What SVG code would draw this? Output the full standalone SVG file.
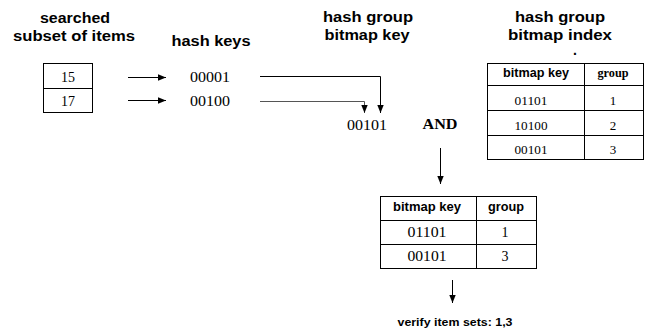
<svg xmlns="http://www.w3.org/2000/svg" width="645" height="333" viewBox="0 0 645 333">
  <style>
    .title { font-family: "Liberation Sans", Arial, sans-serif; font-weight: bold; font-size: 14px; fill: #000; text-anchor: middle; }
    .head { font-family: "Liberation Sans", Arial, sans-serif; font-weight: bold; font-size: 12px; fill: #000; text-anchor: middle; }
    .headSerif { font-family: "Liberation Serif", "Times New Roman", serif; font-weight: bold; font-size: 12px; fill: #000; text-anchor: middle; }
    .val { font-family: "Liberation Serif", "Times New Roman", serif; font-size: 14px; fill: #000; text-anchor: middle; }
    .valSm { font-family: "Liberation Serif", "Times New Roman", serif; font-size: 13px; fill: #000; text-anchor: middle; }
    .op { font-family: "Liberation Serif", "Times New Roman", serif; font-weight: bold; font-size: 15px; fill: #000; text-anchor: middle; }
    .note { font-family: "Liberation Sans", Arial, sans-serif; font-weight: bold; font-size: 11px; fill: #000; text-anchor: middle; }
    .cell { fill: #fff; stroke: #000; stroke-width: 1; }
    .grid { stroke: #000; stroke-width: 1; fill: none; }
    .wire { stroke: #000; stroke-width: 1; fill: none; }
    .wireGrey { stroke: #555; stroke-width: 1; fill: none; }
  </style>
  <defs>
    <marker id="arrow" viewBox="0 0 8 8" refX="8" refY="4" markerWidth="8" markerHeight="8" markerUnits="userSpaceOnUse" orient="auto">
      <path d="M0,0.8 L8,4 L0,7.2 Z" fill="#000"/>
    </marker>
  </defs>

  <rect width="645" height="333" fill="#fff"/>

  <!-- column titles -->
  <g id="titles">
    <text class="title" x="75" y="23" textLength="70" lengthAdjust="spacingAndGlyphs">searched</text>
    <text class="title" x="74" y="41" textLength="122" lengthAdjust="spacingAndGlyphs">subset of items</text>
    <text class="title" x="211" y="46" textLength="79" lengthAdjust="spacingAndGlyphs">hash keys</text>
    <text class="title" x="368" y="22" textLength="90" lengthAdjust="spacingAndGlyphs">hash group</text>
    <text class="title" x="367" y="40" textLength="85" lengthAdjust="spacingAndGlyphs">bitmap key</text>
    <text class="title" x="560" y="22" textLength="90" lengthAdjust="spacingAndGlyphs">hash group</text>
    <text class="title" x="560" y="40" textLength="104" lengthAdjust="spacingAndGlyphs">bitmap index</text>
    <text class="title" x="575" y="55">.</text>
  </g>

  <!-- searched items -->
  <g id="items">
    <rect class="cell" x="43.5" y="63.5" width="49" height="49"/>
    <line class="grid" x1="43.5" y1="88.5" x2="92.5" y2="88.5"/>
    <text class="val" x="68" y="82">15</text>
    <text class="val" x="68" y="106">17</text>
  </g>

  <!-- hash keys -->
  <g id="hashkeys">
    <text class="val" x="210" y="82" textLength="40" lengthAdjust="spacingAndGlyphs">00001</text>
    <text class="val" x="210" y="106" textLength="40" lengthAdjust="spacingAndGlyphs">00100</text>
  </g>

  <!-- combined group key and operator -->
  <g id="groupkey">
    <text class="val" x="367" y="130" textLength="40" lengthAdjust="spacingAndGlyphs">00101</text>
  </g>
  <g id="and-op">
    <text class="op" x="440" y="129" textLength="35" lengthAdjust="spacingAndGlyphs">AND</text>
  </g>

  <!-- bitmap index table -->
  <g id="index-table">
    <rect class="cell" x="487.5" y="63.5" width="156" height="96"/>
    <line class="grid" x1="487.5" y1="85.5" x2="643.5" y2="85.5"/>
    <line class="grid" x1="487.5" y1="110.5" x2="643.5" y2="110.5"/>
    <line class="grid" x1="487.5" y1="135.5" x2="643.5" y2="135.5"/>
    <line class="grid" x1="584.5" y1="63.5" x2="584.5" y2="159.5"/>
    <text class="head" x="536" y="77" textLength="66" lengthAdjust="spacingAndGlyphs">bitmap key</text>
    <text class="headSerif" x="613" y="77" textLength="31" lengthAdjust="spacingAndGlyphs">group</text>
    <text class="valSm" x="531" y="105" textLength="33" lengthAdjust="spacingAndGlyphs">01101</text>
    <text class="valSm" x="613" y="105">1</text>
    <text class="valSm" x="531" y="130" textLength="33" lengthAdjust="spacingAndGlyphs">10100</text>
    <text class="valSm" x="613" y="130">2</text>
    <text class="valSm" x="531" y="154" textLength="33" lengthAdjust="spacingAndGlyphs">00101</text>
    <text class="valSm" x="613" y="154">3</text>
  </g>

  <!-- matching rows -->
  <g id="result-table">
    <rect class="cell" x="380.5" y="196.5" width="156" height="72"/>
    <line class="grid" x1="380.5" y1="220.5" x2="536.5" y2="220.5"/>
    <line class="grid" x1="380.5" y1="244.5" x2="536.5" y2="244.5"/>
    <line class="grid" x1="476.5" y1="196.5" x2="476.5" y2="268.5"/>
    <text class="head" x="427" y="211" textLength="68" lengthAdjust="spacingAndGlyphs">bitmap key</text>
    <text class="head" x="506" y="211" textLength="36" lengthAdjust="spacingAndGlyphs">group</text>
    <text class="val" x="427" y="237" textLength="39" lengthAdjust="spacingAndGlyphs">01101</text>
    <text class="val" x="505" y="237">1</text>
    <text class="val" x="427" y="261" textLength="39" lengthAdjust="spacingAndGlyphs">00101</text>
    <text class="val" x="505" y="261">3</text>
  </g>

  <g id="verify">
    <text class="note" x="455" y="326" textLength="115" lengthAdjust="spacingAndGlyphs">verify item sets: 1,3</text>
  </g>

  <!-- connectors -->
  <g id="connectors">
    <line class="wire" x1="128" y1="77.5" x2="166" y2="77.5" marker-end="url(#arrow)"/>
    <line class="wire" x1="128" y1="100.5" x2="166" y2="100.5" marker-end="url(#arrow)"/>
    <polyline class="wire" points="260,76.5 380.5,76.5 380.5,113" marker-end="url(#arrow)"/>
    <polyline class="wireGrey" points="260,101.5 364.5,101.5 364.5,113" marker-end="url(#arrow)"/>
    <line class="wire" x1="440.5" y1="148" x2="440.5" y2="184" marker-end="url(#arrow)"/>
    <line class="wire" x1="452.5" y1="280" x2="452.5" y2="303" marker-end="url(#arrow)"/>
  </g>
</svg>
